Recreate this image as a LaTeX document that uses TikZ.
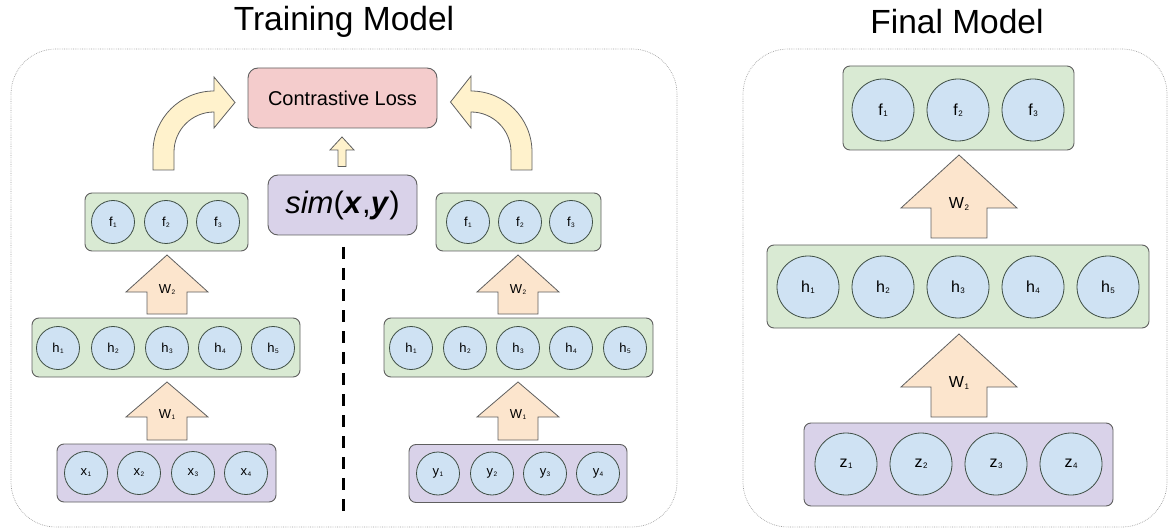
\documentclass[tikz,border=0pt]{standalone}
\usepackage{fontspec}
\setmainfont{Liberation Sans}
\definecolor{gboxc}{HTML}{D9EAD3}
\definecolor{pboxc}{HTML}{D9D2E9}
\definecolor{neuc}{HTML}{CFE2F3}
\definecolor{orac}{HTML}{FCE5CD}
\definecolor{yelc}{HTML}{FFF2CC}
\definecolor{pinc}{HTML}{F4CCCC}
\definecolor{edgec}{HTML}{5F5F5F}
\definecolor{circc}{HTML}{3E4E44}
\newcommand\lab[2]{#1\kern0.4pt\raisebox{-0.15ex}{\fontsize{6.5}{6.5}\selectfont #2}}
\newcommand\labb[2]{#1\kern0.5pt\raisebox{-0.15ex}{\fontsize{8}{8}\selectfont #2}}
% block arrow: cx, bottom, headbase, tip, shaft half, head half, style
\newcommand\barrow[7]{%
  \draw[#7] ({#1-#5},#2) -- ({#1-#5},#3) -- ({#1-#6},#3) -- (#1,#4) -- ({#1+#6},#3) -- ({#1+#5},#3) -- ({#1+#5},#2) -- cycle;}
\begin{document}
\begin{tikzpicture}[x=1pt,y=-1pt,
  frame/.style={draw=gray!75, line width=0.7pt, dash pattern=on 0.7pt off 1.1pt, rounded corners=45},
  layerg/.style={draw=edgec, fill=gboxc, line width=0.9pt, rounded corners=7, inner sep=0},
  layerp/.style={draw=edgec, fill=pboxc, line width=0.9pt, rounded corners=7, inner sep=0},
  neuron/.style={circle, draw=circc, fill=neuc, line width=0.8pt, minimum size=43, inner sep=0, font=\fontsize{13}{13}\selectfont},
  bigneuron/.style={neuron, minimum size=62, font=\fontsize{16}{16}\selectfont},
  warrow/.style={draw=edgec, fill=orac, line width=0.8pt},
  carrow/.style={draw=edgec, fill=yelc, line width=0.8pt},
  wlab/.style={font=\fontsize{13}{14}\selectfont, inner sep=0},
  bigwlab/.style={font=\fontsize{16}{17}\selectfont, inner sep=0},
  title/.style={font=\fontsize{33.5}{36}\selectfont, inner sep=0}
]
\useasboundingbox (0,0) rectangle (1172,529);

% titles
\node[title] (t1) at (344,22) {Training Model};
\node[title] (t2) at (957,22) {Final Model};

% frames
\draw[frame] (11,49) rectangle (677,527);
\draw[frame] (743,49) rectangle (1167,527);

% ---------- Training model ----------
\node[draw=edgec, fill=pinc, line width=0.9pt, rounded corners=10, minimum width=189, minimum height=60, font=\fontsize{20}{22}\selectfont] (cl) at (342.5,98) {Contrastive Loss};
\node[draw=edgec, fill=pboxc, line width=0.9pt, rounded corners=10, minimum width=149, minimum height=60, font=\fontsize{31}{32}\selectfont] (sim) at (342.5,205) {\textit{sim}(\textbf{\textit{x}},\textbf{\textit{y}})};
\barrow{342}{166.5}{150}{137}{4}{12}{carrow}

\coordinate (d1) at (343,247);
\coordinate (d2) at (343,518);
\draw[line width=3pt, dash pattern=on 12pt off 9pt] (d1) -- (d2);

% curved arrows
\draw[carrow] (153,170) -- (153,152) arc[start angle=180,end angle=270,radius=61] -- (214,77) -- (235,102.5) -- (214,128) -- (214,112) arc[start angle=270,end angle=180,radius=40] -- (174,170) -- cycle;
\draw[carrow] (532,170) -- (532,152) arc[start angle=0,end angle=-90,radius=61] -- (471,76) -- (450.5,102) -- (471,128) -- (471,112) arc[start angle=-90,end angle=0,radius=40] -- (511,170) -- cycle;

% left column
\node[layerg, minimum width=163, minimum height=58] (Lfb) at (166.5,222) {};
\node[neuron] (Lf1) at (113,222) {\lab{f}{1}};
\node[neuron] (Lf2) at (166,222) {\lab{f}{2}};
\node[neuron] (Lf3) at (218,222) {\lab{f}{3}};

\barrow{167}{314}{292}{255}{20}{41}{warrow}
\node[wlab] (LW2) at (167,290) {\lab{W}{2}};

\node[layerg, minimum width=268, minimum height=59] (Lhb) at (166,347.5) {};
\node[neuron] (Lh1) at (58,348) {\lab{h}{1}};
\node[neuron] (Lh2) at (113,348) {\lab{h}{2}};
\node[neuron] (Lh3) at (167,348) {\lab{h}{3}};
\node[neuron] (Lh4) at (220,348) {\lab{h}{4}};
\node[neuron] (Lh5) at (273,348) {\lab{h}{5}};

\barrow{167}{440}{417}{382}{20}{41}{warrow}
\node[wlab] (LW1) at (167,415) {\lab{W}{1}};

\node[layerp, minimum width=219, minimum height=58] (Lxb) at (166.5,473) {};
\node[neuron] (Lx1) at (86,473) {\lab{x}{1}};
\node[neuron] (Lx2) at (139,473) {\lab{x}{2}};
\node[neuron] (Lx3) at (193,473) {\lab{x}{3}};
\node[neuron] (Lx4) at (246,473) {\lab{x}{4}};

% right column
\node[layerg, minimum width=165, minimum height=58] (Rfb) at (518.5,222) {};
\node[neuron] (Rf1) at (468,222) {\lab{f}{1}};
\node[neuron] (Rf2) at (520,222) {\lab{f}{2}};
\node[neuron] (Rf3) at (571,222) {\lab{f}{3}};

\barrow{518}{314}{292}{255}{20}{41}{warrow}
\node[wlab] (RW2) at (518,290) {\lab{W}{2}};

\node[layerg, minimum width=269, minimum height=59] (Rhb) at (518.5,347.5) {};
\node[neuron] (Rh1) at (411,348) {\lab{h}{1}};
\node[neuron] (Rh2) at (465,348) {\lab{h}{2}};
\node[neuron] (Rh3) at (518,348) {\lab{h}{3}};
\node[neuron] (Rh4) at (571,348) {\lab{h}{4}};
\node[neuron] (Rh5) at (625,348) {\lab{h}{5}};

\barrow{518}{440}{417}{382}{20}{41}{warrow}
\node[wlab] (RW1) at (518,415) {\lab{W}{1}};

\node[layerp, minimum width=218, minimum height=58] (Ryb) at (518,473.5) {};
\node[neuron] (Ry1) at (438,473.5) {\lab{y}{1}};
\node[neuron] (Ry2) at (492,473.5) {\lab{y}{2}};
\node[neuron] (Ry3) at (545,473.5) {\lab{y}{3}};
\node[neuron] (Ry4) at (598,473.5) {\lab{y}{4}};

% ---------- Final model ----------
\node[layerg, minimum width=231, minimum height=84] (Ffb) at (958.5,108) {};
\node[bigneuron] (Ff1) at (883,110) {\labb{f}{1}};
\node[bigneuron] (Ff2) at (958,110) {\labb{f}{2}};
\node[bigneuron] (Ff3) at (1033,110) {\labb{f}{3}};

\barrow{959}{238}{208}{155}{28}{58}{warrow}
\node[bigwlab] (FW2) at (959,204) {\labb{W}{2}};

\node[layerg, minimum width=382, minimum height=83] (Fhb) at (958,286.5) {};
\node[bigneuron] (Fh1) at (808,287) {\labb{h}{1}};
\node[bigneuron] (Fh2) at (883,287) {\labb{h}{2}};
\node[bigneuron] (Fh3) at (958,287) {\labb{h}{3}};
\node[bigneuron] (Fh4) at (1033,287) {\labb{h}{4}};
\node[bigneuron] (Fh5) at (1108,287) {\labb{h}{5}};

\barrow{959}{417}{387}{334}{28}{58}{warrow}
\node[bigwlab] (FW1) at (959,383) {\labb{W}{1}};

\node[layerp, minimum width=309, minimum height=83] (Fzb) at (958.5,464.5) {};
\node[bigneuron] (Fz1) at (846,464) {\labb{z}{1}};
\node[bigneuron] (Fz2) at (921,464) {\labb{z}{2}};
\node[bigneuron] (Fz3) at (996,464) {\labb{z}{3}};
\node[bigneuron] (Fz4) at (1071,464) {\labb{z}{4}};
\end{tikzpicture}
\end{document}
